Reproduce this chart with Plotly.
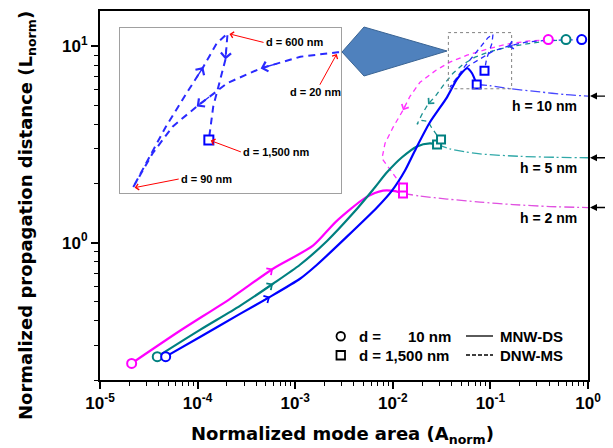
import numpy as np
import plotly.graph_objects as go

# ---------------- data ----------------
# MNW-DS (solid): d = 10 nm (circle) -> d = 1,500 nm (square)
mag_solid_x = [2.11e-5, 6.6e-5, 2.15e-4, 5.92e-4, 1.52e-3, 2.62e-3, 5.31e-3, 7.94e-3, 1.053e-2, 1.272e-2]
mag_solid_y = [0.243, 0.356, 0.518, 0.737, 0.965, 1.28, 1.70, 1.84, 1.83, 1.78]
teal_solid_x = [3.86e-5, 1.058e-4, 2.72e-4, 5.92e-4, 1.12e-3, 2.12e-3, 3.91e-3, 6.27e-3, 8.72e-3,
                1.243e-2, 1.77e-2, 2.40e-2, 2.84e-2]
teal_solid_y = [0.263, 0.360, 0.477, 0.618, 0.772, 1.02, 1.41, 1.86, 2.28, 2.72, 3.09, 3.20, 3.16]
blue_solid_x = [4.71e-5, 1.058e-4, 2.72e-4, 5.52e-4, 1.12e-3, 1.673e-3, 3.39e-3, 6.89e-3, 9.81e-3,
                1.334e-2, 1.77e-2, 2.40e-2, 3.59e-2, 4.55e-2, 5.76e-2, 6.48e-2, 7.24e-2]
blue_solid_y = [0.263, 0.331, 0.434, 0.530, 0.655, 0.772, 1.073, 1.51, 1.84, 2.33, 3.09, 4.10,
                5.49, 6.79, 7.72, 7.28, 6.38]

# DNW-MS (dashed): d = 10 nm (circle) -> d = 1,500 nm (square)
mag_dash_x = [0.392, 0.237, 0.148, 0.0923, 0.0576, 0.0385, 0.0277, 0.0190, 0.0150, 0.01272, 0.01005,
              0.00832, 0.00775, 0.00872, 0.01029, 0.01185, 0.01272]
mag_dash_y = [10.8, 10.6, 10.24, 9.65, 9.00, 8.29, 7.54, 6.55, 5.56, 4.72, 3.86, 3.20, 2.68, 2.47,
              2.22, 2.02, 1.91]
teal_dash_x = [0.595, 0.3625, 0.2262, 0.1411, 0.0945, 0.0696, 0.0524, 0.0414, 0.0335, 0.0277, 0.02295,
               0.0199, 0.0177, 0.0199, 0.02295, 0.0252, 0.0284, 0.0312]
teal_dash_y = [10.8, 10.6, 10.24, 9.82, 9.32, 8.79, 8.09, 7.28, 6.40, 5.62, 5.06, 4.50, 4.00, 4.19,
               4.14, 3.82, 3.52, 3.35]
blue_dash_x = [0.862, 0.5416, 0.3458, 0.2317, 0.1515, 0.1063, 0.0764, 0.0590, 0.0477, 0.0385, 0.0434,
               0.0549, 0.0679, 0.0820, 0.0945, 0.1063, 0.1039, 0.0981, 0.0912, 0.0870]
blue_dash_y = [10.8, 10.73, 10.67, 10.48, 10.0, 9.43, 8.58, 7.91, 7.11, 6.18, 6.71, 7.91, 9.00, 10.06,
               11.05, 11.51, 10.36, 9.54, 8.58, 7.50]

# dash-dot continuation towards large area (h levels)
blue_dd_x = [7.24e-2, 0.0991, 0.1588, 0.3223, 0.581, 1.0]
blue_dd_y = [6.38, 6.29, 6.08, 5.85, 5.67, 5.57]
teal_dd_x = [2.84e-2, 0.0385, 0.0549, 0.0782, 0.201, 0.459, 1.0]
teal_dd_y = [3.16, 3.00, 2.90, 2.83, 2.75, 2.72, 2.705]
mag_dd_x = [1.272e-2, 0.0190, 0.0359, 0.0782, 0.1704, 0.408, 1.0]
mag_dd_y = [1.78, 1.727, 1.667, 1.609, 1.563, 1.527, 1.509]

h_labels = ["h = 10 nm", "h = 5 nm", "h = 2 nm"]

# inset labels: (index into blue dashed curve, text)
inset_labels = [(2, "d = 20 nm"), (9, "d = 90 nm"), (15, "d = 600 nm"), (19, "d = 1,500 nm")]

# region shown enlarged in the inset
zoom_box_x = [0.0371, 0.165]
zoom_box_y = [6.07, 11.72]
inset_range_x = [0.0336, 0.357]
inset_range_y = [6.05, 11.75]

x_tick_vals = [1e-5, 1e-4, 1e-3, 1e-2, 1e-1, 1]
x_tick_text = ["10<sup>-5</sup>", "10<sup>-4</sup>", "10<sup>-3</sup>", "10<sup>-2</sup>",
               "10<sup>-1</sup>", "10<sup>0</sup>"]
y_tick_vals = [1, 10]
y_tick_text = ["10<sup>0</sup>", "10<sup>1</sup>"]

# ---------------- layout geometry (page pixels; page body has an 8px margin) ----------------
OFF = 8
W, H = 613 - OFF, 448 - OFF
PLOT_L, PLOT_R, PLOT_T, PLOT_B = 100, 588, 11, 380      # page pixels of the plot area
ML, MR = PLOT_L - OFF, W - (PLOT_R - OFF)
MT, MB = PLOT_T - OFF, H - (PLOT_B - OFF)
PW, PH = PLOT_R - PLOT_L, PLOT_B - PLOT_T


def pxx(v):
    return (v - PLOT_L) / PW


def pxy(v):
    return (PLOT_B - v) / PH


MAG, TEAL, BLUE = "#ff00ff", "#008080", "#0000ff"
MAG_D, TEAL_D, BLUE_D = "#ff33ff", "#1a9090", "#2a2aff"
MAG_DD, TEAL_DD, BLUE_DD = "#e050e0", "#30a8a8", "#4848ff"

fig = go.Figure()


def add_line(x, y, color, width, dash, xa="x", ya="y", smooth=None):
    ln = dict(color=color, width=width, dash=dash)
    if smooth:
        ln.update(shape="spline", smoothing=smooth)
    fig.add_trace(go.Scatter(x=x, y=y, mode="lines", xaxis=xa, yaxis=ya, line=ln,
                             showlegend=False, hoverinfo="skip"))


def add_marker(x, y, symbol, color, size, xa="x", ya="y"):
    fig.add_trace(go.Scatter(x=[x], y=[y], mode="markers", xaxis=xa, yaxis=ya,
                             marker=dict(symbol=symbol, size=size, color="white",
                                         line=dict(color=color, width=2)),
                             showlegend=False, hoverinfo="skip"))


def add_flow_arrow(x, y, i, color, xa="x", ya="y", size=1.3, width=1.2, frac=0.3):
    hx, hy = np.log10(x[i]), np.log10(y[i])
    qx, qy = np.log10(x[i - 1]), np.log10(y[i - 1])
    fig.add_annotation(x=hx, y=hy, ax=hx - frac * (hx - qx), ay=hy - frac * (hy - qy),
                       xref=xa, yref=ya, axref=xa, ayref=ya, text="", showarrow=True,
                       arrowhead=4, arrowsize=size, arrowwidth=width, arrowcolor=color)


# dash-dot lines
add_line(mag_dd_x, mag_dd_y, MAG_DD, 1.3, "10px,3px,2px,3px", smooth=0.8)
add_line(teal_dd_x, teal_dd_y, TEAL_DD, 1.3, "10px,3px,2px,3px", smooth=0.8)
add_line(blue_dd_x, blue_dd_y, BLUE_DD, 1.3, "10px,3px,2px,3px", smooth=0.8)
# dashed lines
add_line(mag_dash_x, mag_dash_y, MAG_D, 1.3, "5px,4px")
add_line(teal_dash_x, teal_dash_y, TEAL_D, 1.3, "5px,4px")
add_line(blue_dash_x, blue_dash_y, BLUE_D, 1.3, "5px,4px")
# solid lines
add_line(mag_solid_x, mag_solid_y, MAG, 2.2, "solid", smooth=0.7)
add_line(teal_solid_x, teal_solid_y, TEAL, 2.2, "solid", smooth=0.7)
add_line(blue_solid_x, blue_solid_y, BLUE, 2.2, "solid", smooth=0.6)

# end markers
for sx, sy, dx, dy, c in [(mag_solid_x, mag_solid_y, mag_dash_x, mag_dash_y, MAG),
                          (teal_solid_x, teal_solid_y, teal_dash_x, teal_dash_y, TEAL),
                          (blue_solid_x, blue_solid_y, blue_dash_x, blue_dash_y, BLUE)]:
    add_marker(sx[0], sy[0], "circle", c, 9)
    add_marker(dx[0], dy[0], "circle", c, 9)
    add_marker(sx[-1], sy[-1], "square", c, 8)
    add_marker(dx[-1], dy[-1], "square", c, 8)

# flow arrows on the curves
add_flow_arrow(mag_solid_x, mag_solid_y, 3, MAG)
add_flow_arrow(teal_solid_x, teal_solid_y, 3, TEAL)
add_flow_arrow(blue_solid_x, blue_solid_y, 3, BLUE)
add_flow_arrow(mag_dash_x, mag_dash_y, 9, MAG_D, width=1.0, size=1.5, frac=0.5)
add_flow_arrow(teal_dash_x, teal_dash_y, 10, TEAL_D, width=1.0, size=1.5, frac=0.5)
add_flow_arrow(blue_dash_x, blue_dash_y, 4, BLUE_D, width=1.0, size=1.5, frac=0.5)

# ---------------- inset ----------------
fig.add_shape(type="rect", xref="paper", yref="paper", x0=pxx(120), x1=pxx(340.7),
              y0=pxy(193.3), y1=pxy(28.3), fillcolor="white", line=dict(width=0), layer="below")
add_line(blue_dash_x, blue_dash_y, BLUE_D, 2.0, "7px,5px", "x2", "y2")
add_marker(blue_dash_x[-1], blue_dash_y[-1], "square", BLUE, 9, "x2", "y2")
for i in [4, 6, 13, 16]:
    add_flow_arrow(blue_dash_x, blue_dash_y, i, BLUE_D, "x2", "y2", size=1.4, width=1.4, frac=0.45)

label_offsets = {2: (-22, 40, "center"), 9: (46, -9, "left"), 15: (36, 9, "left"), 19: (32, 12, "left")}
for idx, txt in inset_labels:
    ax, ay, anc = label_offsets[idx]
    fig.add_annotation(x=np.log10(blue_dash_x[idx]), y=np.log10(blue_dash_y[idx]), xref="x2", yref="y2",
                       ax=ax, ay=ay, xanchor=anc, text="<b>" + txt + "</b>", showarrow=True,
                       arrowhead=4, arrowsize=1.2, arrowwidth=1.0, arrowcolor="red", standoff=2,
                       font=dict(family="Liberation Sans", size=11, color="black"))

# zoom box in main plot
fig.add_shape(type="rect", xref="x", yref="y", x0=zoom_box_x[0], x1=zoom_box_x[1],
              y0=zoom_box_y[0], y1=zoom_box_y[1], line=dict(color="#808080", width=1, dash="dot"))
# big pointer arrow
fig.add_shape(type="path", xref="paper", yref="paper",
              path=f"M {pxx(342)},{pxy(52)} L {pxx(364)},{pxy(27)} L {pxx(447)},{pxy(51)} "
                   f"L {pxx(364)},{pxy(76)} Z",
              fillcolor="#4f81bd", line=dict(color="#3a6494", width=1))

# ---------------- h labels & edge arrows ----------------
for lab, yy in zip(h_labels, [blue_dd_y, teal_dd_y, mag_dd_y]):
    fig.add_annotation(x=pxx(579), y=np.log10(yy[-1]), xref="paper", yref="y", yshift=-10,
                       xanchor="right", yanchor="middle", showarrow=False, text="<b>" + lab + "</b>",
                       font=dict(family="Liberation Sans", size=14, color="black"))
    fig.add_annotation(x=pxx(590), y=np.log10(yy[-1]), xref="paper", yref="y", ax=21, ay=0,
                       text="", showarrow=True, arrowhead=2, arrowsize=1, arrowwidth=1.4,
                       arrowcolor="black")

# ---------------- legend ----------------
lf = dict(family="Liberation Sans", size=15, color="black")
fig.add_shape(type="circle", xref="paper", yref="paper", x0=pxx(336.5), x1=pxx(345), y0=pxy(340.5),
              y1=pxy(332), line=dict(color="black", width=1.8))
fig.add_shape(type="rect", xref="paper", yref="paper", x0=pxx(336.5), x1=pxx(345), y0=pxy(359.5),
              y1=pxy(351), line=dict(color="black", width=1.8))
fig.add_shape(type="line", xref="paper", yref="paper", x0=pxx(466), x1=pxx(493), y0=pxy(336),
              y1=pxy(336), line=dict(color="black", width=1.3))
fig.add_shape(type="line", xref="paper", yref="paper", x0=pxx(466), x1=pxx(493), y0=pxy(355),
              y1=pxy(355), line=dict(color="black", width=1.3, dash="4px,2px"))
for txt, xp, yp, anc in [("d =", 357, 336, "left"), ("10 nm", 453.3, 336, "right"),
                         ("d = 1,500 nm", 357, 355, "left"), ("MNW-DS", 498, 336, "left"),
                         ("DNW-MS", 498, 355, "left")]:
    fig.add_annotation(x=pxx(xp), y=pxy(yp), xref="paper", yref="paper", xanchor=anc, yanchor="middle",
                       showarrow=False, text="<b>" + txt + "</b>", font=lf)

# ---------------- axis titles ----------------
tf = dict(family="DejaVu Sans", size=18, color="black")
fig.add_annotation(x=pxx(342), y=pxy(435), xref="paper", yref="paper", showarrow=False,
                   text="<b>Normalized mode area (A<sub>norm</sub>)</b>", font=tf,
                   xanchor="center", yanchor="middle")
fig.add_annotation(x=pxx(27), y=pxy(216), xref="paper", yref="paper", showarrow=False, textangle=-90,
                   text="<b>Normalized propagation distance (L<sub>norm</sub>)</b>", font=tf,
                   xanchor="center", yanchor="middle")

x_minor = [d * 10.0 ** e for e in range(-5, 0) for d in range(2, 10)]
y_minor = [d * 10.0 ** e for e in range(-1, 1) for d in range(2, 10)]
tickfont = dict(family="Liberation Sans", size=17, color="black", weight="bold")

fig.update_layout(
    width=W, height=H, margin=dict(l=ML, r=MR, t=MT, b=MB, autoexpand=False),
    paper_bgcolor="white", plot_bgcolor="white", showlegend=False,
    xaxis=dict(type="log", range=[-5, 0], showline=True, mirror=True, linecolor="black", linewidth=2,
               ticks="outside", ticklen=7, tickwidth=1.5, tickcolor="black",
               tickmode="array", tickvals=x_tick_vals, ticktext=x_tick_text, tickfont=tickfont,
               minor=dict(tickmode="array", tickvals=x_minor, ticks="outside", ticklen=4, tickwidth=1.2,
                          tickcolor="black", showgrid=False),
               showgrid=False, zeroline=False),
    yaxis=dict(type="log", range=[np.log10(0.2), np.log10(15.1)], showline=True, mirror=True,
               linecolor="black", linewidth=2, ticks="outside", ticklen=7, tickwidth=1.5, tickcolor="black",
               tickmode="array", tickvals=y_tick_vals, ticktext=y_tick_text, tickfont=tickfont,
               minor=dict(tickmode="array", tickvals=y_minor, ticks="outside", ticklen=4, tickwidth=1.2,
                          tickcolor="black", showgrid=False),
               showgrid=False, zeroline=False),
    xaxis2=dict(type="log", range=list(np.log10(inset_range_x)), domain=[pxx(120), pxx(340.7)],
                anchor="y2", showline=True, mirror=True, linecolor="#a0a0a0", linewidth=1.2,
                showticklabels=False, ticks="", showgrid=False, zeroline=False),
    yaxis2=dict(type="log", range=list(np.log10(inset_range_y)), domain=[pxy(193.3), pxy(28.3)],
                anchor="x2", showline=True, mirror=True, linecolor="#a0a0a0", linewidth=1.2,
                showticklabels=False, ticks="", showgrid=False, zeroline=False),
)

fig.write_html("out.html")
